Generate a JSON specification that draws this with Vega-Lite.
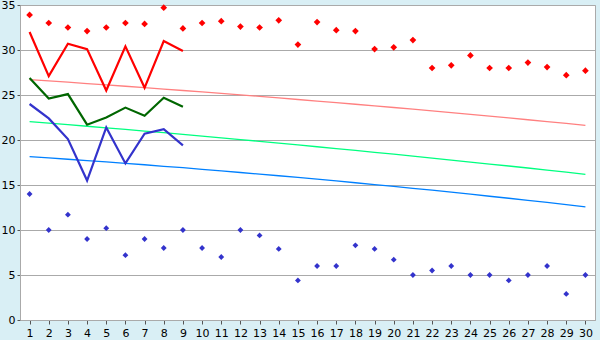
{
  "$schema": "https://vega.github.io/schema/vega-lite/v6.json",
  "width": 575,
  "height": 315,
  "autosize": {"type": "none"},
  "padding": {"left": 20, "top": 5, "right": 5, "bottom": 20},
  "background": "#d9eff5",
  "config": {
    "view": {"fill": "white", "stroke": "#aaaaaa", "strokeWidth": 1},
    "axis": {"labelFont": "DejaVu Sans", "labelFontSize": 11, "labelColor": "#000000", "domainColor": "#aaaaaa", "tickColor": "#555555", "gridColor": "#aaaaaa", "title": null}
  },
  "datasets": {
    "pts": [
      {"day": 1, "high": 33.9, "low": 14}, {"day": 2, "high": 33, "low": 10}, {"day": 3, "high": 32.5, "low": 11.7},
      {"day": 4, "high": 32.1, "low": 9}, {"day": 5, "high": 32.5, "low": 10.2}, {"day": 6, "high": 33, "low": 7.2},
      {"day": 7, "high": 32.9, "low": 9}, {"day": 8, "high": 34.7, "low": 8}, {"day": 9, "high": 32.4, "low": 10},
      {"day": 10, "high": 33, "low": 8}, {"day": 11, "high": 33.2, "low": 7}, {"day": 12, "high": 32.6, "low": 10},
      {"day": 13, "high": 32.5, "low": 9.4}, {"day": 14, "high": 33.3, "low": 7.9}, {"day": 15, "high": 30.6, "low": 4.4},
      {"day": 16, "high": 33.1, "low": 6}, {"day": 17, "high": 32.2, "low": 6}, {"day": 18, "high": 32.1, "low": 8.3},
      {"day": 19, "high": 30.1, "low": 7.9}, {"day": 20, "high": 30.3, "low": 6.7}, {"day": 21, "high": 31.1, "low": 5},
      {"day": 22, "high": 28, "low": 5.5}, {"day": 23, "high": 28.3, "low": 6}, {"day": 24, "high": 29.4, "low": 5},
      {"day": 25, "high": 28, "low": 5}, {"day": 26, "high": 28, "low": 4.4}, {"day": 27, "high": 28.6, "low": 5},
      {"day": 28, "high": 28.1, "low": 6}, {"day": 29, "high": 27.2, "low": 2.9}, {"day": 30, "high": 27.7, "low": 5}
    ],
    "obs": [
      {"day": 1, "max": 32, "mean": 26.9, "min": 24}, {"day": 2, "max": 27.1, "mean": 24.6, "min": 22.4},
      {"day": 3, "max": 30.7, "mean": 25.1, "min": 20.1}, {"day": 4, "max": 30.1, "mean": 21.7, "min": 15.5},
      {"day": 5, "max": 25.5, "mean": 22.5, "min": 21.4}, {"day": 6, "max": 30.4, "mean": 23.6, "min": 17.4},
      {"day": 7, "max": 25.8, "mean": 22.7, "min": 20.7}, {"day": 8, "max": 31, "mean": 24.7, "min": 21.2},
      {"day": 9, "max": 29.9, "mean": 23.7, "min": 19.4}
    ],
    "trend": [
      {"day": 1, "hi": 26.7, "mid": 22.05, "lo": 18.15}, {"day": 2, "hi": 26.56, "mid": 21.88, "lo": 18.01},
      {"day": 3, "hi": 26.42, "mid": 21.7, "lo": 17.86}, {"day": 4, "hi": 26.27, "mid": 21.53, "lo": 17.71},
      {"day": 5, "hi": 26.12, "mid": 21.35, "lo": 17.56}, {"day": 6, "hi": 25.97, "mid": 21.17, "lo": 17.4},
      {"day": 7, "hi": 25.82, "mid": 20.99, "lo": 17.25}, {"day": 8, "hi": 25.66, "mid": 20.81, "lo": 17.08},
      {"day": 9, "hi": 25.5, "mid": 20.62, "lo": 16.92}, {"day": 10, "hi": 25.34, "mid": 20.43, "lo": 16.74},
      {"day": 11, "hi": 25.18, "mid": 20.24, "lo": 16.57}, {"day": 12, "hi": 25.01, "mid": 20.05, "lo": 16.39},
      {"day": 13, "hi": 24.85, "mid": 19.85, "lo": 16.21}, {"day": 14, "hi": 24.68, "mid": 19.65, "lo": 16.03},
      {"day": 15, "hi": 24.5, "mid": 19.45, "lo": 15.84}, {"day": 16, "hi": 24.33, "mid": 19.25, "lo": 15.65},
      {"day": 17, "hi": 24.15, "mid": 19.05, "lo": 15.45}, {"day": 18, "hi": 23.97, "mid": 18.84, "lo": 15.25},
      {"day": 19, "hi": 23.79, "mid": 18.63, "lo": 15.05}, {"day": 20, "hi": 23.61, "mid": 18.42, "lo": 14.84},
      {"day": 21, "hi": 23.42, "mid": 18.21, "lo": 14.63}, {"day": 22, "hi": 23.23, "mid": 17.99, "lo": 14.42},
      {"day": 23, "hi": 23.04, "mid": 17.77, "lo": 14.2}, {"day": 24, "hi": 22.84, "mid": 17.55, "lo": 13.98},
      {"day": 25, "hi": 22.65, "mid": 17.33, "lo": 13.75}, {"day": 26, "hi": 22.45, "mid": 17.11, "lo": 13.53},
      {"day": 27, "hi": 22.25, "mid": 16.89, "lo": 13.29}, {"day": 28, "hi": 22.04, "mid": 16.66, "lo": 13.06},
      {"day": 29, "hi": 21.84, "mid": 16.43, "lo": 12.82}, {"day": 30, "hi": 21.63, "mid": 16.19, "lo": 12.58}
    ]
  },
  "encoding": {
    "x": {"field": "day", "type": "quantitative",
      "scale": {"domain": [0.5, 30.5], "nice": false, "zero": false},
      "axis": {"values": [1,2,3,4,5,6,7,8,9,10,11,12,13,14,15,16,17,18,19,20,21,22,23,24,25,26,27,28,29,30], "grid": false, "tickSize": 4, "labelPadding": 3, "format": "d", "labelFlush": false, "labelOverlap": false}}
  },
  "layer": [
    {"data": {"name": "trend"}, "mark": {"type": "line", "color": "#ff8080", "strokeWidth": 1.3},
      "encoding": {"y": {"field": "hi", "type": "quantitative", "scale": {"domain": [0, 35], "nice": false},
        "axis": {"values": [0,5,10,15,20,25,30,35], "grid": true, "tickSize": 3, "labelPadding": 2}}}},
    {"data": {"name": "trend"}, "mark": {"type": "line", "color": "#00ff80", "strokeWidth": 1.3},
      "encoding": {"y": {"field": "mid", "type": "quantitative"}}},
    {"data": {"name": "trend"}, "mark": {"type": "line", "color": "#0080ff", "strokeWidth": 1.3},
      "encoding": {"y": {"field": "lo", "type": "quantitative"}}},
    {"data": {"name": "obs"}, "mark": {"type": "line", "color": "#ff0000", "strokeWidth": 2.2},
      "encoding": {"y": {"field": "max", "type": "quantitative"}}},
    {"data": {"name": "obs"}, "mark": {"type": "line", "color": "#006600", "strokeWidth": 2.2},
      "encoding": {"y": {"field": "mean", "type": "quantitative"}}},
    {"data": {"name": "obs"}, "mark": {"type": "line", "color": "#3333cc", "strokeWidth": 2.2},
      "encoding": {"y": {"field": "min", "type": "quantitative"}}},
    {"data": {"name": "pts"}, "mark": {"type": "point", "shape": "diamond", "filled": true, "color": "#ff0000", "size": 45, "opacity": 1},
      "encoding": {"y": {"field": "high", "type": "quantitative"}}},
    {"data": {"name": "pts"}, "mark": {"type": "point", "shape": "diamond", "filled": true, "color": "#3333cc", "size": 34, "opacity": 1},
      "encoding": {"y": {"field": "low", "type": "quantitative"}}}
  ]
}
